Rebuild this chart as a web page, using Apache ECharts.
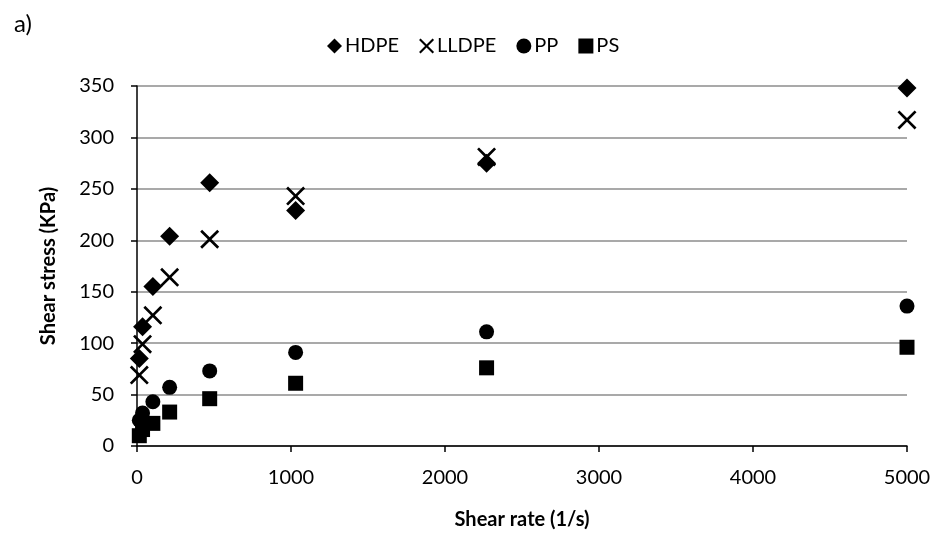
<!DOCTYPE html>
<html>
<head>
<meta charset="utf-8">
<script src="https://cdn.jsdelivr.net/npm/echarts@6/dist/echarts.min.js"></script>
<style>
  html, body { margin: 0; padding: 0; background: #fff; }
  #chart { width: 935px; height: 535px; }
</style>
</head>
<body>
<div id="chart"></div>
<script>
// Shear rate (1/s) at which each polymer was measured
const shearRate = [15, 36, 103, 212, 472, 1030, 2270, 5000];

// Shear stress (KPa) per polymer
const hdpe  = [85, 116, 155, 204, 256, 229, 275, 348];
const lldpe = [69, 99, 127, 164, 201, 243, 281, 317];
const pp    = [25, 32, 43, 57, 73, 91, 111, 136];
const ps    = [10, 16, 22, 33, 46, 61, 76, 96];

const FONT = 'Lato, "Open Sans", sans-serif';
const CROSS = 'path://M0,2L2,0L10,8L18,0L20,2L12,10L20,18L18,20L10,12L2,20L0,18L8,10Z';

function pairs(ys) {
  return shearRate.map((x, i) => [x, ys[i]]);
}

const chart = echarts.init(document.getElementById('chart'), null, { renderer: 'canvas' });

const markStyle = { color: '#000', opacity: 1 };

chart.setOption({
  animation: false,
  backgroundColor: '#fff',
  title: {
    text: 'a)',
    left: 9,
    top: 7,
    textStyle: { fontFamily: FONT, fontSize: 24, fontWeight: 'normal', color: '#000' }
  },
  legend: {
    top: 31,
    left: 322,
    itemWidth: 15,
    itemHeight: 15,
    itemGap: 20,
    textStyle: { fontFamily: FONT, fontSize: 20, color: '#000', padding: [0, 0, 0, -2] },
    data: [
      { name: 'HDPE', icon: 'diamond' },
      { name: 'LLDPE', icon: CROSS },
      { name: 'PP', icon: 'circle' },
      { name: 'PS', icon: 'rect' }
    ]
  },
  grid: { left: 137, right: 28, top: 86, bottom: 87, containLabel: false },
  xAxis: {
    type: 'value',
    min: 0,
    max: 5000,
    interval: 1000,
    name: 'Shear rate (1/s)',
    nameLocation: 'middle',
    nameGap: 64,
    nameTextStyle: { fontFamily: FONT, fontSize: 20, fontWeight: 'bold', color: '#000' },
    axisLine: { show: true, onZero: false, lineStyle: { color: '#000', width: 1.5 } },
    axisTick: { show: true, length: 6, lineStyle: { color: '#000', width: 1.5 } },
    axisLabel: { margin: 22, fontFamily: FONT, fontSize: 20, color: '#000', formatter: v => String(v) },
    splitLine: { show: false }
  },
  yAxis: {
    type: 'value',
    min: 0,
    max: 350,
    interval: 50,
    name: 'Shear stress (KPa)',
    nameLocation: 'middle',
    nameGap: 78,
    nameTextStyle: { fontFamily: FONT, fontSize: 20, fontWeight: 'bold', color: '#000' },
    axisLine: { show: true, onZero: false, lineStyle: { color: '#000', width: 1.5 } },
    axisTick: { show: true, length: 6, lineStyle: { color: '#000', width: 1.5 } },
    axisLabel: { margin: 23, fontFamily: FONT, fontSize: 20, color: '#000', formatter: v => String(v) },
    splitLine: { show: true, lineStyle: { color: '#8c8c8c', width: 1.5 } }
  },
  series: [
    {
      name: 'HDPE', type: 'scatter', data: pairs(hdpe),
      symbol: 'diamond', symbolSize: 19, itemStyle: markStyle
    },
    {
      name: 'LLDPE', type: 'scatter', data: pairs(lldpe),
      symbol: CROSS, symbolSize: 19, itemStyle: markStyle
    },
    {
      name: 'PP', type: 'scatter', data: pairs(pp),
      symbol: 'circle', symbolSize: 15, itemStyle: markStyle
    },
    {
      name: 'PS', type: 'scatter', data: pairs(ps),
      symbol: 'rect', symbolSize: 15, itemStyle: markStyle
    }
  ]
});
</script>
</body>
</html>
